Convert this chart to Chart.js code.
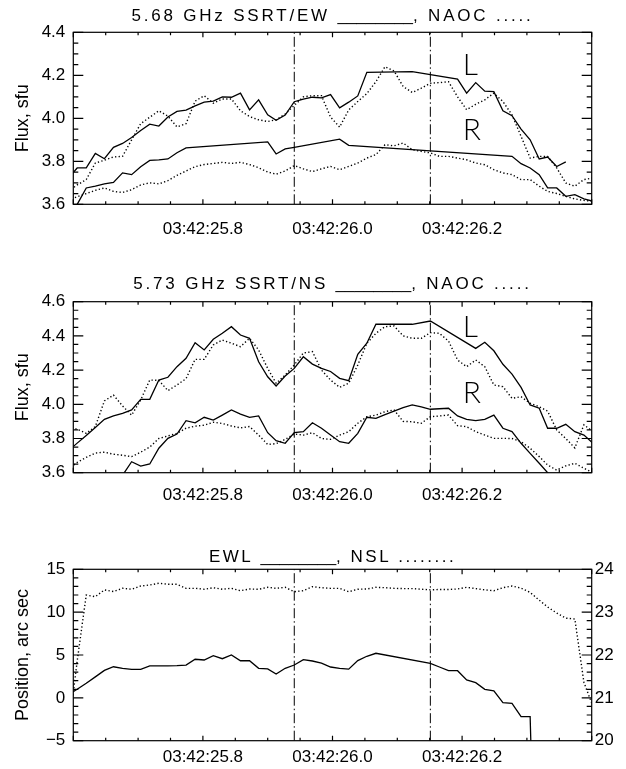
<!DOCTYPE html>
<html>
<head>
<meta charset="utf-8">
<script src="https://cdn.jsdelivr.net/npm/chart.js@4.4.1/dist/chart.umd.min.js"></script>
<style>
  html, body { margin: 0; padding: 0; background: #fff; }
  #wrap { position: relative; width: 626px; height: 769px; }
  #wrap canvas { position: absolute; left: 0; }
</style>
</head>
<body>
<div id="wrap">
  <canvas id="p1" width="626" height="256" style="top:0px"></canvas>
  <canvas id="p2" width="626" height="256" style="top:256px"></canvas>
  <canvas id="p3" width="626" height="257" style="top:512px"></canvas>
</div>
<script>
"use strict";

// sample times, seconds after 03:42
const times = [
  25.592, 25.606, 25.620, 25.634, 25.648, 25.662, 25.676, 25.690, 25.704, 25.718,
  25.732, 25.746, 25.760, 25.774, 25.788, 25.802, 25.816, 25.830, 25.844, 25.858,
  25.872, 25.886, 25.900, 25.913, 25.927, 25.941, 25.955, 25.969, 25.983, 25.997,
  26.011, 26.025, 26.039, 26.053, 26.067, 26.081, 26.095, 26.109, 26.123, 26.137,
  26.151, 26.165, 26.179, 26.193, 26.207, 26.221, 26.235, 26.249, 26.263, 26.277,
  26.291, 26.305, 26.319, 26.332, 26.346, 26.360, 26.374, 26.388, 26.402
];
const markerTimes = [25.941, 26.151];
const xTickValues = [25.8, 26.0, 26.2];
const xTickLabels = ["03:42:25.8", "03:42:26.0", "03:42:26.2"];

// 5.68 GHz, flux in sfu
const ewL = [
  3.72, 3.769, 3.769, 3.837, 3.812, 3.865, 3.883, 3.911, 3.943, 3.973,
  3.964, 4.006, 4.032, 4.038, 4.058, 4.075, 4.080, 4.100, 4.098, 4.117,
  4.039, 4.086, 4.016, 3.991, 4.015, 4.077, 4.089, 4.098, 4.095, 4.110,
  4.049, 4.075, 4.104, 4.214, null, null, null, null, 4.217, null,
  null, null, null, 4.182, 4.117, 4.166, 4.126, 4.124, 4.035, 4.012,
  3.950, 3.900, 3.811, 3.820, 3.776, 3.797, null, null, null
];
const naocL1 = [
  3.66, 3.69, 3.715, 3.792, 3.805, 3.82, 3.823, 3.90, 3.975, 4.005,
  4.035, 4.01, 3.96, 3.975, 4.08, 4.105, 4.07, 4.09, 4.09, 4.035,
  4.008, 3.993, 3.985, 3.993, 4.02, 4.06, 4.10, 4.105, 4.105, 4.006,
  3.959, 4.039, 4.078, 4.115, 4.17, 4.24, 4.22, 4.148, 4.12, 4.14,
  4.163, 4.166, 4.17, 4.10, 4.04, 4.065, 4.086, 4.117, 4.078, 4.016,
  3.916, 3.815, 3.823, 3.823, 3.769, 3.699, 3.684, 3.715, 3.723
];
const ewR = [
  3.53, 3.60, 3.676, 3.685, 3.695, 3.702, 3.746, 3.738, 3.775, 3.804,
  3.807, 3.811, 3.84, 3.862, null, null, null, null, null, null,
  null, null, 3.890, 3.834, 3.858, 3.865, null, null, null, null,
  3.903, 3.874, null, null, null, null, null, null, null, null,
  null, null, null, null, null, null, null, null, null, 3.823,
  3.789, 3.769, 3.738, 3.676, 3.676, 3.637, 3.645, 3.625, 3.614
];
const naocR1 = [
  3.62, 3.635, 3.65, 3.665, 3.676, 3.66, 3.655, 3.668, 3.69, 3.70,
  3.695, 3.71, 3.735, 3.755, 3.775, 3.785, 3.79, 3.795, 3.79, 3.795,
  3.785, 3.77, 3.75, 3.74, 3.755, 3.78, 3.765, 3.752, 3.765, 3.776,
  3.761, 3.776, 3.792, 3.815, 3.831, 3.877, 3.872, 3.885, 3.854, 3.846,
  3.839, 3.823, 3.823, 3.815, 3.807, 3.792, 3.784, 3.761, 3.746, 3.738,
  3.715, 3.715, 3.684, 3.660, 3.650, 3.637, 3.625, 3.618, 3.614
];

// 5.73 GHz, flux in sfu
const nsL = [
  3.727, 3.773, 3.818, 3.864, 3.912, 3.932, 3.947, 3.967, 4.029, 4.029,
  4.142, 4.158, 4.220, 4.269, 4.360, 4.318, 4.380, 4.415, 4.454, 4.405,
  4.386, 4.249, 4.161, 4.107, 4.165, 4.210, 4.278, 4.235, 4.21, 4.192,
  4.152, 4.138, 4.292, 4.357, 4.468, null, null, null, 4.468, null,
  4.487, null, null, null, null, 4.327, 4.363, 4.313, 4.234, 4.177,
  4.099, 3.996, 3.977, 3.860, 3.860, 3.883, 3.840, 3.820, 3.772
];
const naocL2 = [
  3.86, 3.855, 3.83, 3.87, 4.02, 4.054, 3.99, 3.937, 4.025, 4.142,
  4.14, 4.08, 4.113, 4.15, 4.263, 4.263, 4.347, 4.376, 4.357, 4.337,
  4.386, 4.318, 4.21, 4.123, 4.171, 4.23, 4.30, 4.308, 4.20, 4.142,
  4.099, 4.123, 4.23, 4.357, 4.415, 4.454, 4.458, 4.40, 4.386, 4.386,
  4.419, 4.415, 4.37, 4.259, 4.22, 4.259, 4.22, 4.113, 4.103, 4.035,
  4.044, 4.006, 3.986, 3.96, 3.85, 3.80, 3.745, 3.88, 3.84
];
const nsR = [
  null, null, null, null, null, 3.52, 3.585, 3.664, 3.639, 3.651,
  3.743, 3.801, 3.826, 3.904, 3.892, 3.924, 3.908, 3.937, 3.967, 3.943,
  3.924, 3.932, 3.834, 3.787, 3.772, 3.834, 3.840, 3.892, 3.860, 3.82,
  3.781, 3.772, 3.830, 3.924, 3.918, 3.94, 3.96, 3.98, 3.996, 3.985,
  3.971, 3.974, 3.977, 3.932, 3.912, 3.904, 3.912, 3.937, 3.860, 3.840,
  3.772, 3.713, 3.655, 3.60, 3.54, null, null, null, null
];
const naocR2 = [
  3.62, 3.66, 3.69, 3.715, 3.72, 3.708, 3.702, 3.694, 3.72, 3.75,
  3.80, 3.815, 3.83, 3.86, 3.872, 3.878, 3.895, 3.888, 3.873, 3.862,
  3.87, 3.82, 3.765, 3.77, 3.795, 3.826, 3.82, 3.834, 3.80, 3.795,
  3.82, 3.84, 3.889, 3.927, 3.937, 3.957, 3.967, 3.90, 3.898, 3.889,
  3.927, 3.932, 3.937, 3.875, 3.869, 3.84, 3.82, 3.801, 3.801, 3.80,
  3.781, 3.743, 3.694, 3.645, 3.615, 3.64, 3.655, 3.626, 3.60
];

// source positions, arc sec
const ewlPos = [
  0.38, 1.0, 1.7, 2.45, 3.2, 3.63, 3.45, 3.33, 3.33, 3.72,
  3.72, 3.72, 3.75, 3.83, 4.50, 4.42, 4.92, 4.57, 5.0, 4.33,
  4.33, 3.45, 3.37, 2.78, 3.45, 3.83, 4.45, 4.30, 4.05, 3.60,
  3.45, 3.35, 4.35, 4.85, 5.2, null, null, null, null, null,
  4.03, 3.6, 3.17, 3.17, 2.1, 1.77, 1.0, 0.83, -0.57, -0.64,
  -2.2, -2.2, -40, null, null, null, null, null, null
];
const nslPos = [
  20.14, 21.86, 23.40, 23.36, 23.52, 23.48, 23.556, 23.534, 23.61, 23.634,
  23.674, 23.65, 23.65, 23.556, 23.556, 23.534, 23.57, 23.534, 23.556, 23.50,
  23.54, 23.534, 23.58, 23.556, 23.58, 23.476, 23.50, 23.594, 23.57, 23.556,
  23.556, 23.476, 23.534, 23.54, 23.58, 23.57, 23.556, 23.55, 23.55, 23.534,
  23.52, 23.53, 23.53, 23.54, 23.58, 23.55, 23.52, 23.50, 23.57, 23.61,
  23.56, 23.46, 23.28, 23.12, 22.98, 22.86, 22.84, 21.36, 20.80
];

const flux1Ticks = [3.6, 3.8, 4.0, 4.2, 4.4];
const flux2Ticks = [3.6, 3.8, 4.0, 4.2, 4.4, 4.6];
const posTicks = [-5, 0, 5, 10, 15];
const posLabels = ["\u22125", "0", "5", "10", "15"];
const nsTicks = [20, 21, 22, 23, 24];

Chart.defaults.font.family = '"Liberation Sans", Arial, sans-serif';
Chart.defaults.font.size = 17;
Chart.defaults.color = "#000";

const pts = vals => times.map((t, i) => ({ x: t, y: vals[i] }));
const solid = (vals, axis) => ({ data: pts(vals), borderColor: "#000", borderWidth: 1.3, spanGaps: true, yAxisID: axis || "y" });
const dotted = (vals, axis) => ({ data: pts(vals), borderColor: "#000", borderWidth: 1.4, borderDash: [1.3, 2.3], spanGaps: true, yAxisID: axis || "y" });
const marker = (t, lo, hi) => ({ data: [{ x: t, y: lo }, { x: t, y: hi }], borderColor: "#000", borderWidth: 1, borderDash: [10, 3, 1.5, 3] });

function forTicks(min, max, minor, major, fn) {
  const n = Math.round((max - min) / minor);
  for (let i = 0; i <= n; i++) {
    const v = min + i * minor;
    const r = v / major;
    fn(v, Math.abs(r - Math.round(r)) < 1e-6);
  }
}

// box with inward major/minor ticks, title and L/R letters
function idlPlugin(cfg) {
  return {
    id: "idl",
    afterDraw(chart) {
      const { ctx, chartArea: a, scales } = chart;
      ctx.save();
      ctx.strokeStyle = "#000";
      ctx.lineWidth = 1.2;
      ctx.strokeRect(a.left, a.top, a.right - a.left, a.bottom - a.top);
      ctx.beginPath();
      const xs = scales.x;
      forTicks(xs.min, xs.max, 0.05, 0.2, (v, major) => {
        const p = xs.getPixelForValue(v), len = major ? 5 : 3;
        ctx.moveTo(p, a.bottom); ctx.lineTo(p, a.bottom - len);
        ctx.moveTo(p, a.top); ctx.lineTo(p, a.top + len);
      });
      const ys = scales.y;
      forTicks(ys.min, ys.max, cfg.yMinor, cfg.yMajor, (v, major) => {
        const p = ys.getPixelForValue(v), len = major ? 10 : 5;
        ctx.moveTo(a.left, p); ctx.lineTo(a.left + len, p);
        if (!cfg.y2) { ctx.moveTo(a.right, p); ctx.lineTo(a.right - len, p); }
      });
      if (cfg.y2) {
        const rs = scales.y2;
        forTicks(rs.min, rs.max, 0.2, 1, (v, major) => {
          const p = rs.getPixelForValue(v), len = major ? 10 : 5;
          ctx.moveTo(a.right, p); ctx.lineTo(a.right - len, p);
        });
      }
      ctx.stroke();

      // title, drawn in pieces so the spacing can be widened
      ctx.fillStyle = "#000";
      ctx.font = '17px "Liberation Sans", Arial, sans-serif';
      ctx.textBaseline = "middle";
      ctx.textAlign = "left";
      let total = 0;
      const widths = cfg.title.map(p => {
        ctx.letterSpacing = "0px";
        const w = ctx.measureText(p.text).width + p.sp * p.text.length;
        total += w;
        return w;
      });
      let x = (a.left + a.right) / 2 - total / 2;
      cfg.title.forEach((p, i) => {
        ctx.letterSpacing = p.sp + "px";
        ctx.fillText(p.text, x, cfg.titleY);
        x += widths[i];
      });
      ctx.letterSpacing = "0px";

      ctx.font = '300 30px Lato, "Liberation Sans", Arial, sans-serif';
      ctx.textBaseline = "alphabetic";
      (cfg.letters || []).forEach(m => {
        ctx.fillText(m.text, xs.getPixelForValue(m.t), ys.getPixelForValue(m.v));
      });
      ctx.restore();
    }
  };
}

function makePanel(id, cfg) {
  const scales = {
    x: {
      type: "linear", min: 25.6, max: 26.4,
      grid: { display: false, drawTicks: false }, border: { display: false },
      afterBuildTicks: s => { s.ticks = xTickValues.map(v => ({ value: v })); },
      ticks: { autoSkip: false, maxRotation: 0, padding: cfg.xPad, callback: (v, i) => xTickLabels[i] },
      afterFit: s => { s.height = cfg.xHeight; }
    },
    y: {
      position: "left", min: cfg.yMin, max: cfg.yMax,
      grid: { display: false, drawTicks: false }, border: { display: false },
      afterBuildTicks: s => { s.ticks = cfg.yTicks.map(v => ({ value: v })); },
      ticks: { padding: 8, callback: (v, i) => cfg.yLabels[i] },
      title: { display: true, text: cfg.yTitle, font: { size: 18 }, padding: { top: 12, bottom: 0 } },
      afterFit: s => { s.width = 73.3; }
    }
  };
  if (cfg.y2) {
    scales.y2 = {
      position: "right", min: 20, max: 24,
      grid: { display: false, drawTicks: false }, border: { display: false },
      afterBuildTicks: s => { s.ticks = nsTicks.map(v => ({ value: v })); },
      ticks: { padding: 3, callback: (v, i) => String(nsTicks[i]) },
      afterFit: s => { s.width = 34.3; }
    };
  }
  const datasets = cfg.datasets.concat(markerTimes.map(t => marker(t, cfg.yMin, cfg.yMax)));
  new Chart(document.getElementById(id), {
    type: "line",
    data: { datasets },
    options: {
      responsive: false,
      animation: false,
      devicePixelRatio: 1,
      layout: { padding: { top: cfg.top, right: cfg.y2 ? 0 : 34.3, left: 0, bottom: 0 } },
      elements: { point: { radius: 0 }, line: { tension: 0 } },
      plugins: { legend: { display: false }, tooltip: { enabled: false } },
      scales
    },
    plugins: [idlPlugin(cfg)]
  });
}

makePanel("p1", {
  top: 32.3, xHeight: 51.7, xPad: 14.5, yMin: 3.6, yMax: 4.4, yMinor: 0.05, yMajor: 0.2,
  yTicks: flux1Ticks, yLabels: flux1Ticks.map(v => v.toFixed(1)), yTitle: "Flux, sfu",
  titleY: 16,
  title: [{ text: "5.68 GHz SSRT/EW ", sp: 2.8 }, { text: "________", sp: 0 }, { text: ", NAOC .....", sp: 2.8 }],
  letters: [{ text: "L", t: 26.201, v: 4.202 }, { text: "R", t: 26.201, v: 3.90 }],
  datasets: [solid(ewL), dotted(naocL1), solid(ewR), dotted(naocR1)]
});

makePanel("p2", {
  top: 45.7, xHeight: 39.3, xPad: 12, yMin: 3.6, yMax: 4.6, yMinor: 0.05, yMajor: 0.2,
  yTicks: flux2Ticks, yLabels: flux2Ticks.map(v => v.toFixed(1)), yTitle: "Flux, sfu",
  titleY: 28,
  title: [{ text: "5.73 GHz SSRT/NS ", sp: 2.8 }, { text: "________", sp: 0 }, { text: ", NAOC .....", sp: 2.8 }],
  letters: [{ text: "L", t: 26.201, v: 4.394 }, { text: "R", t: 26.201, v: 4.008 }],
  datasets: [solid(nsL), dotted(naocL2), solid(nsR), dotted(naocR2)]
});

makePanel("p3", {
  top: 57.3, xHeight: 28.3, xPad: 6, yMin: -5, yMax: 15, yMinor: 1, yMajor: 5,
  yTicks: posTicks, yLabels: posLabels, yTitle: "Position, arc sec",
  y2: true, titleY: 45,
  title: [{ text: "EWL ", sp: 2.5 }, { text: "________", sp: 0 }, { text: ", NSL ........", sp: 2.5 }],
  datasets: [solid(ewlPos), dotted(nslPos, "y2")]
});
</script>
</body>
</html>
